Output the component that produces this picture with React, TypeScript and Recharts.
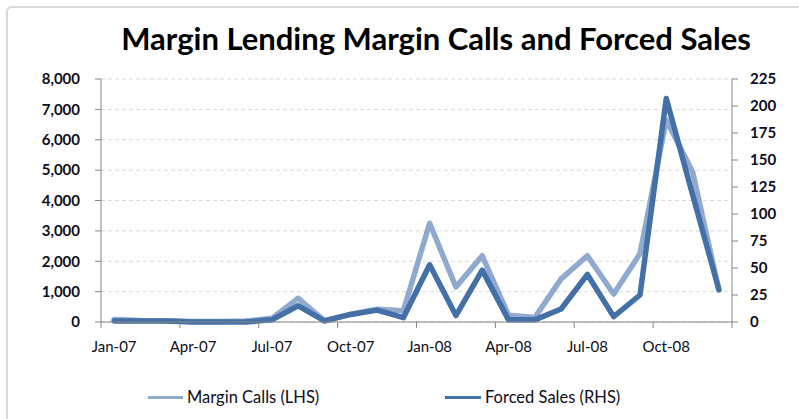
import React from 'react';
import { LineChart, Line, XAxis, YAxis, CartesianGrid, Legend } from 'recharts';

const months = [
  'Jan-07', 'Feb-07', 'Mar-07', 'Apr-07', 'May-07', 'Jun-07', 'Jul-07', 'Aug-07', 'Sep-07', 'Oct-07', 'Nov-07', 'Dec-07',
  'Jan-08', 'Feb-08', 'Mar-08', 'Apr-08', 'May-08', 'Jun-08', 'Jul-08', 'Aug-08', 'Sep-08', 'Oct-08', 'Nov-08', 'Dec-08',
];
const marginCalls = [80, 50, 40, 20, 20, 30, 120, 780, 40, 260, 420, 370, 3250, 1150, 2180, 220, 150, 1420, 2180, 920, 2250, 6650, 4950, 1050];
const forcedSales = [1, 1, 1, 0, 0, 0, 2, 15, 1, 7, 11, 4, 53, 6, 48, 2, 2, 12, 44, 5, 25, 207, 118, 30];
const leftTicks = [0, 1000, 2000, 3000, 4000, 5000, 6000, 7000, 8000];
const rightTicks = [0, 25, 50, 75, 100, 125, 150, 175, 200, 225];
const title = 'Margin Lending Margin Calls and Forced Sales';
const seriesNames = ['Margin Calls (LHS)', 'Forced Sales (RHS)'];

const data = months.map((m, i) => ({ month: m, mc: marginCalls[i], fs: forcedSales[i] }));

const W = 799;
const H = 419;
const margin = { top: 79, right: 7, bottom: 67, left: 41 };
const Y_W = 60;
const X_H = 30;
const plotLeft = margin.left + Y_W;
const plotRight = W - margin.right - Y_W;
const axisY = H - margin.bottom - X_H;
const band = (plotRight - plotLeft) / months.length;

const LIGHT = '#8FA9CF';
const DARK = '#4470A8';
const AXIS = '#868686';
const FONT = 'Lato, "Open Sans", sans-serif';
const TICK_COLOR = '#0d0d20';

const XTick = (props: any) => {
  const { x, payload } = props;
  const idx = months.indexOf(payload.value);
  const lines = [x - band / 2];
  if (idx + 3 >= months.length) lines.push(x + band * 2.5);
  return (
    <g>
      {lines.map((lx, k) => (
        <line key={k} x1={lx} x2={lx} y1={axisY} y2={axisY + 6} stroke={AXIS} strokeWidth={1} />
      ))}
      <text x={x} y={axisY + 19} dy="0.71em" textAnchor="middle" fontFamily={FONT} fontSize={15} fill={TICK_COLOR}>
        {payload.value}
      </text>
    </g>
  );
};

const LegendContent = () => (
  <div style={{ position: 'relative', width: W, height: 24, fontFamily: FONT, fontSize: 16.5, color: TICK_COLOR }}>
    <div style={{ position: 'absolute', left: 148, top: 10, width: 35, height: 3, background: LIGHT }} />
    <div style={{ position: 'absolute', left: 187, top: 0, lineHeight: '22px', whiteSpace: 'nowrap' }}>{seriesNames[0]}</div>
    <div style={{ position: 'absolute', left: 445, top: 10, width: 36, height: 3, background: DARK }} />
    <div style={{ position: 'absolute', left: 485, top: 0, lineHeight: '22px', whiteSpace: 'nowrap' }}>{seriesNames[1]}</div>
  </div>
);

export default function App() {
  return (
    <div style={{ position: 'fixed', left: 0, top: 0, width: W, height: H, overflow: 'hidden', background: '#fff' }}>
      <div
        style={{
          position: 'absolute',
          left: 6,
          top: 6,
          width: 900,
          height: 600,
          border: '2px solid #d9d9d9',
          borderRadius: 6,
        }}
      />
      <div style={{ position: 'absolute', left: 0, top: 0 }}>
        <LineChart width={W} height={H} data={data} margin={margin}>
          <text
            x={436}
            y={50}
            textAnchor="middle"
            fontFamily={FONT}
            fontWeight={700}
            fontSize={31}
            fill="#000"
          >
            {title}
          </text>
          <CartesianGrid vertical={false} stroke="#d9d9d9" strokeDasharray="4 3" yAxisId="left" />
          <XAxis
            dataKey="month"
            interval={2}
            padding={{ left: band / 2, right: band / 2 }}
            height={X_H}
            stroke={AXIS}
            tickLine={false}
            tick={<XTick />}
          />
          <YAxis
            yAxisId="left"
            orientation="left"
            width={Y_W}
            domain={[0, 8000]}
            ticks={leftTicks}
            interval={0}
            tickFormatter={(v: number) => v.toLocaleString('en-US')}
            stroke={AXIS}
            tickSize={6}
            tickMargin={15}
            tick={{ fontFamily: FONT, fontSize: 15, fontWeight: 700, fill: TICK_COLOR }}
          />
          <YAxis
            yAxisId="right"
            orientation="right"
            width={Y_W}
            domain={[0, 225]}
            ticks={rightTicks}
            interval={0}
            stroke={AXIS}
            tickSize={6}
            tickMargin={12}
            tick={{ fontFamily: FONT, fontSize: 15, fontWeight: 700, fill: TICK_COLOR }}
          />
          <Legend
            layout="horizontal"
            verticalAlign="middle"
            align="center"
            wrapperStyle={{ top: 386, left: 0, width: W }}
            content={<LegendContent />}
          />
          <Line
            yAxisId="left"
            dataKey="mc"
            name={seriesNames[0]}
            stroke={LIGHT}
            strokeWidth={5.5}
            dot={false}
            activeDot={false}
            strokeLinejoin="round"
            strokeLinecap="round"
            isAnimationActive={false}
          />
          <Line
            yAxisId="right"
            dataKey="fs"
            name={seriesNames[1]}
            stroke={DARK}
            strokeWidth={5.5}
            dot={false}
            activeDot={false}
            strokeLinejoin="round"
            strokeLinecap="round"
            isAnimationActive={false}
          />
        </LineChart>
      </div>
    </div>
  );
}
